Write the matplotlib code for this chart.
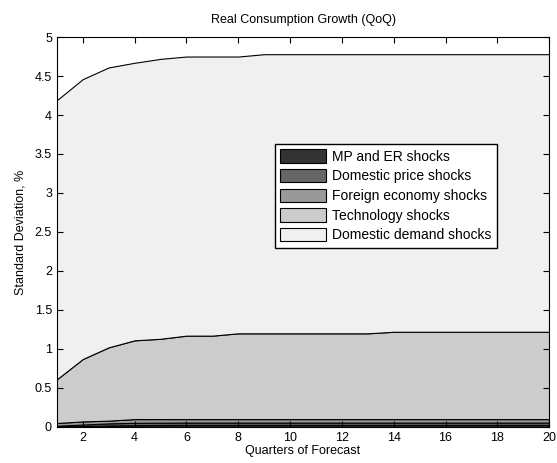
import numpy as np
import matplotlib
matplotlib.use('Agg')
from matplotlib import pyplot as plt
from matplotlib.patches import Patch

plt.rcParams['font.family'] = ['Liberation Sans', 'DejaVu Sans']

###quarters of forecast
quarters = list(range(1, 21))

###std deviation contribution of each shock group
mp_er = [0.005, 0.010, 0.018, 0.022, 0.024, 0.025, 0.025, 0.025, 0.025, 0.025,
         0.025, 0.025, 0.025, 0.025, 0.025, 0.025, 0.025, 0.025, 0.025, 0.025]
dom_price = [0.010, 0.020, 0.027, 0.030, 0.030, 0.030, 0.030, 0.030, 0.030, 0.030,
             0.030, 0.030, 0.030, 0.030, 0.030, 0.030, 0.030, 0.030, 0.030, 0.030]
foreign = [0.035, 0.040, 0.035, 0.048, 0.046, 0.045, 0.045, 0.045, 0.045, 0.045,
           0.045, 0.045, 0.045, 0.045, 0.045, 0.045, 0.045, 0.045, 0.045, 0.045]
technology = [0.56, 0.80, 0.94, 1.01, 1.03, 1.07, 1.07, 1.10, 1.10, 1.10,
              1.10, 1.10, 1.10, 1.12, 1.12, 1.12, 1.12, 1.12, 1.12, 1.12]
dom_demand = [3.58, 3.59, 3.59, 3.56, 3.59, 3.58, 3.58, 3.55, 3.58, 3.58,
              3.58, 3.58, 3.58, 3.56, 3.56, 3.56, 3.56, 3.56, 3.56, 3.56]

labels = ['MP and ER shocks', 'Domestic price shocks', 'Foreign economy shocks',
          'Technology shocks', 'Domestic demand shocks']
colors = ['#333333', '#666666', '#999999', '#cccccc', '#f0f0f0']

fig = plt.figure(figsize=(5.57, 4.63), dpi=100)
ax = fig.add_axes([0.102, 0.078, 0.884, 0.842])

ax.stackplot(quarters, mp_er, dom_price, foreign, technology, dom_demand,
             colors=colors, edgecolor='black', linewidth=0.8)

ax.set_xlim(1, 20)
ax.set_ylim(0, 5)
ax.set_xticks(range(2, 21, 2))
ax.set_yticks(np.arange(0, 5.01, 0.5))
ax.set_yticklabels(['0', '0.5', '1', '1.5', '2', '2.5', '3', '3.5', '4', '4.5', '5'])
ax.tick_params(direction='in', top=True, right=True, labelsize=9, length=4, width=0.8)
for sp in ax.spines.values():
    sp.set_linewidth(0.8)

ax.set_title('Real Consumption Growth (QoQ)', fontsize=9, pad=10)
ax.set_xlabel('Quarters of Forecast', fontsize=9, labelpad=1)
ax.set_ylabel('Standard Deviation, %', fontsize=9, labelpad=6)

handles = [Patch(facecolor=c, edgecolor='black', linewidth=0.8) for c in colors]
leg = ax.legend(handles, labels, loc='upper left', bbox_to_anchor=(0.443, 0.726),
                fontsize=10, fancybox=False, edgecolor='black', framealpha=1,
                handlelength=3.3, handleheight=1.1, handletextpad=0.4,
                labelspacing=0.38, borderpad=0.4, borderaxespad=0)
leg.get_frame().set_linewidth(1.0)

plt.savefig('out.png', dpi=100)
plt.close()
